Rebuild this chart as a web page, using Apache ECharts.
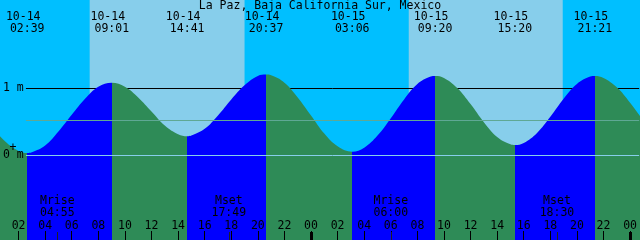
<!DOCTYPE html>
<html>
<head>
<meta charset="utf-8">
<script src="https://cdn.jsdelivr.net/npm/echarts@6/dist/echarts.min.js"></script>
<style>
  html, body { margin: 0; padding: 0; background: #00BFFF; }
  #chart { width: 640px; height: 240px; }
</style>
</head>
<body>
<div id="chart"></div>
<script>
// hours counted from 10-14 00:00
const title = 'La Paz, Baja California Sur, Mexico';
const dayList = ['10-14', '10-15'];
const startHour = 0.68;
const endHour = 48.68;

// high / low tides
const tideDates = ['10-14', '10-14', '10-14', '10-14', '10-15', '10-15', '10-15', '10-15'];
const tideTimes = ['02:39', '09:01', '14:41', '20:37', '03:06', '09:20', '15:20', '21:21'];
const tideHeights = [0.03, 1.08, 0.28, 1.20, 0.05, 1.18, 0.15, 1.18];

// tide level, hour by hour (m)
const curveHours = [0, 1, 2, 3, 4, 5, 6, 7, 8, 10, 11, 12, 13, 14, 15, 16, 17, 18, 19, 20, 21, 22, 23, 24, 25, 26,
  28, 29, 30, 31, 32, 33, 34, 35, 36, 37, 38, 39, 40, 41, 42, 43, 44, 45, 46, 47, 48, 49];
const curveHeights = [0.42, 0.20, 0.06, 0.04, 0.14, 0.35, 0.60, 0.84, 1.02, 1.02, 0.86, 0.65, 0.44, 0.31, 0.29, 0.39, 0.59, 0.83, 1.04, 1.18, 1.19, 1.08, 0.86, 0.59, 0.32, 0.13,
  0.11, 0.29, 0.55, 0.83, 1.06, 1.17, 1.15, 1.00, 0.76, 0.49, 0.27, 0.16, 0.18, 0.33, 0.57, 0.84, 1.06, 1.17, 1.15, 1.01, 0.78, 0.51];

// sun
const sunDates = ['10-14', '10-15'];
const sunrise = ['07:21', '07:21'];
const sunset = ['19:00', '18:56'];

// moon
const moonNames = ['Mrise', 'Mset', 'Mrise', 'Mset'];
const moonDates = ['10-14', '10-14', '10-15', '10-15'];
const moonTimes = ['04:55', '17:49', '06:00', '18:30'];

const meanLevel = 0.52;
const tickHours = [2, 4, 6, 8, 10, 12, 14, 16, 18, 20, 22, 24, 26, 28, 30, 32, 34, 36, 38, 40, 42, 44, 46, 48];
const midnightHours = [24, 48];

const FLOOD = '#0000FF', EBB = '#2E8B57', DAY = '#87CEEB', NIGHT = '#00BFFF';
const FONT = '11.5px "DejaVu Sans Mono"';
const PX_PER_HOUR = 640 / (endHour - startHour);

function toHour(date, time) {
  const p = time.split(':');
  return dayList.indexOf(date) * 24 + (+p[0]) + (+p[1]) / 60;
}

const tideHours = tideTimes.map((t, i) => toHour(tideDates[i], t));
const moonHours = moonTimes.map((t, i) => toHour(moonDates[i], t));

let points = curveHours.map((h, i) => [h, curveHeights[i]]);
tideHours.forEach((h, i) => points.push([h, tideHeights[i]]));
points.sort((a, b) => a[0] - b[0]);

// ebb before the first low, then alternating flood / ebb
const pieces = [{ lt: tideHours[0], color: EBB }];
for (let i = 0; i < tideHours.length; i++) {
  const rising = tideHeights[i] < (tideHeights[i + 1] !== undefined ? tideHeights[i + 1] : -1);
  const p = { gte: tideHours[i], color: rising ? FLOOD : EBB };
  if (i + 1 < tideHours.length) p.lt = tideHours[i + 1];
  pieces.push(p);
}

const dayBands = sunDates.map((d, i) => [
  { xAxis: toHour(d, sunrise[i]), itemStyle: { color: DAY } },
  { xAxis: toHour(d, sunset[i]) }
]);

const lineStart = startHour + 25 / PX_PER_HOUR;
function hLine(level, color) {
  return [
    { coord: [lineStart, level], lineStyle: { color: color, width: 1, type: 'solid' } },
    { coord: [endHour, level] }
  ];
}

const pad = n => (n < 10 ? '0' : '') + n;

function tickAxis(values, len, width, color, labels) {
  return {
    type: 'value', min: startHour, max: endHour, position: 'bottom', offset: 0, z: 10,
    axisLine: { show: false, onZero: false }, splitLine: { show: false },
    axisTick: { inside: true, length: len, customValues: values, lineStyle: { color: color, width: width } },
    axisLabel: labels ? {
      inside: true, margin: 8, customValues: values,
      formatter: v => pad(Math.round(v) % 24),
      color: '#000', fontFamily: 'DejaVu Sans Mono', fontSize: 11.5
    } : { show: false }
  };
}

const chart = echarts.init(document.getElementById('chart'));

const option = {
  backgroundColor: NIGHT,
  animation: false,
  grid: { left: 0, right: 0, top: 0, bottom: 0 },
  xAxis: [
    tickAxis(tickHours, 9, 1, '#000', true),
    tickAxis(midnightHours, 8, 3, '#000', false),
    tickAxis(moonHours, 8, 1, '#222', false)
  ],
  yAxis: {
    type: 'value', min: -85 / 67, max: 155 / 67, z: 10,
    axisLine: { show: false, onZero: false }, splitLine: { show: false }, axisTick: { show: false },
    axisLabel: {
      inside: true, margin: 2, customValues: [0, 1],
      formatter: v => v + ' m',
      color: '#000', fontFamily: 'DejaVu Sans Mono', fontSize: 11.5
    }
  },
  visualMap: {
    type: 'piecewise', show: false, dimension: 0, seriesIndex: 1, pieces: pieces
  },
  series: [{
    name: 'sky', type: 'line', data: [], z: 1, silent: true,
    markArea: { silent: true, z: 1, data: dayBands },
    markLine: { silent: true, z: 1, symbol: 'none', label: { show: false }, data: [hLine(1, '#000')] }
  }, {
    name: 'tide', type: 'line', data: points, z: 2, silent: true,
    smooth: 0.4, showSymbol: false,
    lineStyle: { width: 0 },
    areaStyle: { opacity: 1, origin: 'start' }
  }, {
    name: 'ref', type: 'line', data: [], z: 3, silent: true,
    markLine: {
      silent: true, z: 5, symbol: 'none', label: { show: false },
      data: [hLine(meanLevel, '#5FA894'), hLine(0, '#87CEEB')]
    }
  }]
};

chart.setOption(option);

const px = h => chart.convertToPixel({ xAxisIndex: 0 }, h);
const text = (s, x, y) => ({
  type: 'text', x: x, y: y, z: 100, silent: true,
  style: { text: s, fill: '#000', font: FONT, align: 'center', verticalAlign: 'middle' }
});

const graphics = [text(title, 320, 6)];
tideHours.forEach((h, i) => {
  graphics.push(text(tideDates[i], px(h) - 4, 17.5));
  graphics.push(text(tideTimes[i], px(h), 29));
});
moonHours.forEach((h, i) => {
  const x = px(h);
  graphics.push(text(moonNames[i], x, 201.5));
  graphics.push(text(moonTimes[i], x, 213.5));
});
graphics.push(text('+', 13, 148));

chart.setOption({ graphic: graphics });
</script>
</body>
</html>
